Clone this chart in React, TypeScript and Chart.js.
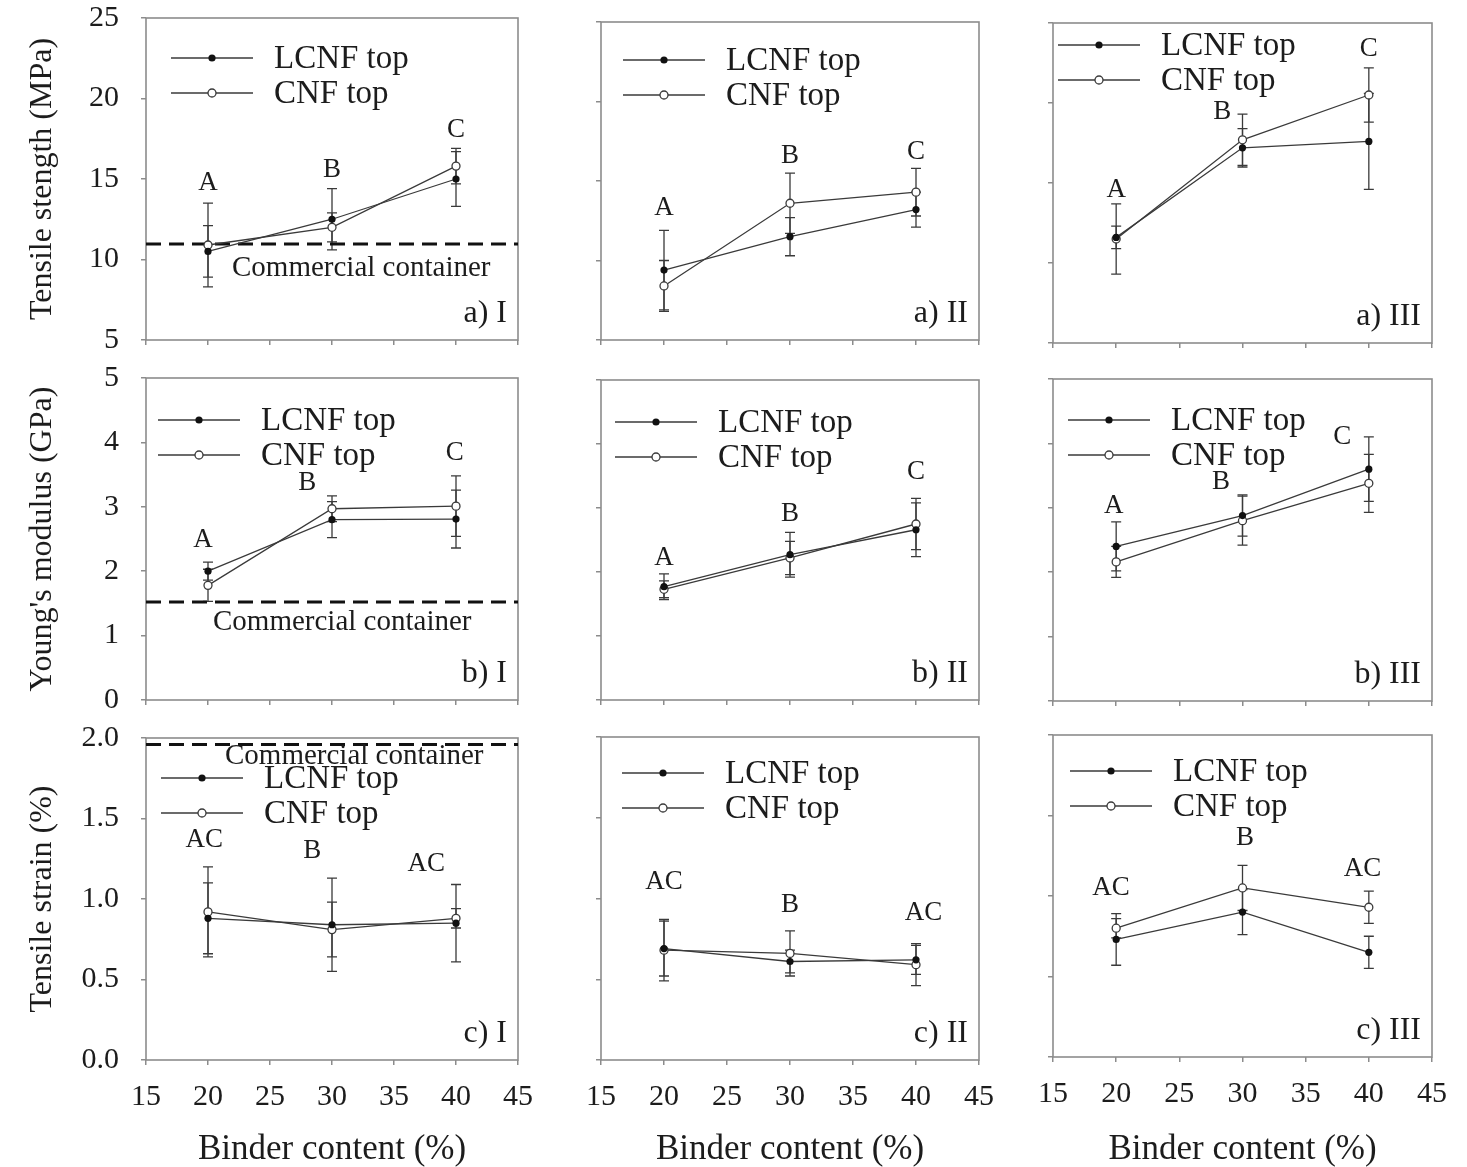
import React, { useEffect, useRef } from "react";
import { Chart, registerables } from "chart.js";

Chart.register(...registerables);

// ---------------- data ----------------
const BINDER_CONTENT = [20, 30, 40];
const X_MIN = 15;
const X_MAX = 45;
const X_STEP = 5;

const SERIES_NAMES = ["LCNF top", "CNF top"];
const ROW_LETTERS = ["a", "b", "c"];
const COL_NUMERALS = ["I", "II", "III"];
const Y_TITLES = ["Tensile stength (MPa)", "Young's modulus (GPa)", "Tensile strain (%)"];
const X_TITLE = "Binder content (%)";
const COMMERCIAL_LABEL = "Commercial container";

// y axis ranges per property row: [min, max, step]
const Y_RANGES = [
  [5, 25, 5],
  [0, 5, 1],
  [0, 2, 0.5],
];
const Y_DECIMALS = [0, 0, 1];

// Tensile strength (MPa)
const TS_LCNF_I = [10.5, 12.5, 15.0];
const TS_LCNF_I_ERR = [1.6, 1.9, 1.7];
const TS_CNF_I = [10.9, 12.0, 15.8];
const TS_CNF_I_ERR = [2.6, 0.9, 1.1];
const TS_LCNF_II = [9.4, 11.5, 13.2];
const TS_LCNF_II_ERR = [2.5, 1.2, 1.1];
const TS_CNF_II = [8.4, 13.6, 14.3];
const TS_CNF_II_ERR = [1.6, 1.9, 1.5];
const TS_LCNF_III = [11.6, 17.2, 17.6];
const TS_LCNF_III_ERR = [0.7, 1.2, 3.0];
const TS_CNF_III = [11.5, 17.7, 20.5];
const TS_CNF_III_ERR = [2.2, 1.6, 1.7];

// Young's modulus (GPa)
const YM_LCNF_I = [2.0, 2.8, 2.81];
const YM_LCNF_I_ERR = [0.14, 0.28, 0.45];
const YM_CNF_I = [1.78, 2.97, 3.01];
const YM_CNF_I_ERR = [0.25, 0.2, 0.47];
const YM_LCNF_II = [1.77, 2.27, 2.66];
const YM_LCNF_II_ERR = [0.2, 0.35, 0.42];
const YM_CNF_II = [1.73, 2.22, 2.75];
const YM_CNF_II_ERR = [0.13, 0.26, 0.4];
const YM_LCNF_III = [2.4, 2.88, 3.6];
const YM_LCNF_III_ERR = [0.38, 0.32, 0.5];
const YM_CNF_III = [2.16, 2.8, 3.38];
const YM_CNF_III_ERR = [0.24, 0.38, 0.45];

// Tensile strain (%)
const SN_LCNF_I = [0.88, 0.84, 0.85];
const SN_LCNF_I_ERR = [0.22, 0.29, 0.24];
const SN_CNF_I = [0.92, 0.81, 0.88];
const SN_CNF_I_ERR = [0.28, 0.17, 0.06];
const SN_LCNF_II = [0.69, 0.61, 0.62];
const SN_LCNF_II_ERR = [0.17, 0.07, 0.09];
const SN_CNF_II = [0.68, 0.66, 0.59];
const SN_CNF_II_ERR = [0.19, 0.14, 0.13];
const SN_LCNF_III = [0.73, 0.9, 0.65];
const SN_LCNF_III_ERR = [0.16, 0.14, 0.1];
const SN_CNF_III = [0.8, 1.05, 0.93];
const SN_CNF_III_ERR = [0.06, 0.14, 0.1];

// commercial container reference level per property (shown in column I)
const COMMERCIAL_LEVEL = [10.96, 1.52, 1.96];

// significance letters per property row
const GROUP_LETTERS = [
  ["A", "B", "C"],
  ["A", "B", "C"],
  ["AC", "B", "AC"],
];

// ---------------- layout / annotation anchors (data units) ----------------
const LETTER_ANCHORS = [
  [
    [[20, 14.75], [30, 15.55], [40, 18.05]],
    [[20, 13.3], [30, 16.6], [40, 16.8]],
    [[20, 14.55], [28.4, 19.45], [40, 23.4]],
  ],
  [
    [[19.6, 2.48], [28.0, 3.37], [39.9, 3.84]],
    [[20, 2.22], [30, 2.9], [40, 3.56]],
    [[19.8, 3.03], [28.3, 3.4], [37.9, 4.1]],
  ],
  [
    [[19.7, 1.37], [28.4, 1.3], [37.6, 1.22]],
    [[20, 1.1], [30, 0.96], [40.6, 0.91]],
    [[19.6, 1.05], [30.2, 1.36], [39.5, 1.17]],
  ],
];

const COL_BOX = [
  { x0: 0, w: 560, left: 146, right: 518 },
  { x0: 560, w: 450, left: 601, right: 979 },
  { x0: 1020, w: 447, left: 1053, right: 1432 },
];
const ROW_BOX = [
  { y0: 0, h: 355 },
  { y0: 355, h: 357 },
  { y0: 712, h: 455 },
];
const PLOT_TB = [
  [[18, 340], [22, 340], [23, 343]],
  [[378, 700], [380, 700], [379, 701]],
  [[738, 1060], [737, 1060], [735, 1057]],
];
const LEGEND_OFF = [
  [[25, 40], [22, 38], [5, 22]],
  [[12, 42], [14, 42], [15, 41]],
  [[15, 40], [21, 36], [17, 36]],
];
const COMMERCIAL_TEXT_OFF = [[86, 24], [67, 20], [79, 12]];

const FONT = '"Liberation Serif", "Times New Roman", serif';
const TEXT_COLOR = "#1c1c1c";
const FRAME_COLOR = "#8c8c8c";
const LINE_COLOR = "#3a3a3a";

const DATA = [
  [
    [[TS_LCNF_I, TS_LCNF_I_ERR], [TS_CNF_I, TS_CNF_I_ERR]],
    [[TS_LCNF_II, TS_LCNF_II_ERR], [TS_CNF_II, TS_CNF_II_ERR]],
    [[TS_LCNF_III, TS_LCNF_III_ERR], [TS_CNF_III, TS_CNF_III_ERR]],
  ],
  [
    [[YM_LCNF_I, YM_LCNF_I_ERR], [YM_CNF_I, YM_CNF_I_ERR]],
    [[YM_LCNF_II, YM_LCNF_II_ERR], [YM_CNF_II, YM_CNF_II_ERR]],
    [[YM_LCNF_III, YM_LCNF_III_ERR], [YM_CNF_III, YM_CNF_III_ERR]],
  ],
  [
    [[SN_LCNF_I, SN_LCNF_I_ERR], [SN_CNF_I, SN_CNF_I_ERR]],
    [[SN_LCNF_II, SN_LCNF_II_ERR], [SN_CNF_II, SN_CNF_II_ERR]],
    [[SN_LCNF_III, SN_LCNF_III_ERR], [SN_CNF_III, SN_CNF_III_ERR]],
  ],
];

function drawMarker(ctx: CanvasRenderingContext2D, x: number, y: number, filled: boolean) {
  ctx.beginPath();
  if (filled) {
    ctx.arc(x, y, 3.6, 0, Math.PI * 2);
    ctx.fillStyle = "#111";
    ctx.fill();
  } else {
    ctx.arc(x, y, 4, 0, Math.PI * 2);
    ctx.fillStyle = "#fff";
    ctx.fill();
    ctx.lineWidth = 1.3;
    ctx.strokeStyle = LINE_COLOR;
    ctx.stroke();
  }
}

function Panel({ row, col }: { row: number; col: number }) {
  const ref = useRef<HTMLCanvasElement | null>(null);
  const cb = COL_BOX[col];
  const rb = ROW_BOX[row];

  useEffect(() => {
    const canvas = ref.current;
    if (!canvas) return;
    const [plotTop, plotBottom] = PLOT_TB[row][col];
    const [yMin, yMax, yStep] = Y_RANGES[row];
    const showY = col === 0;
    const showX = row === 2;
    const series = DATA[row][col];
    const hasCommercial = col === 0;

    const datasets: any[] = series.map(([vals], i) => ({
      label: SERIES_NAMES[i],
      data: BINDER_CONTENT.map((x, j) => ({ x, y: vals[j] })),
      borderColor: LINE_COLOR,
      borderWidth: 1.3,
      tension: 0,
      pointRadius: i === 0 ? 3.6 : 4,
      pointBackgroundColor: i === 0 ? "#111" : "#fff",
      pointBorderColor: i === 0 ? "#111" : LINE_COLOR,
      pointBorderWidth: i === 0 ? 0 : 1.3,
      clip: false,
    }));
    if (hasCommercial) {
      datasets.push({
        label: COMMERCIAL_LABEL,
        data: [
          { x: X_MIN, y: COMMERCIAL_LEVEL[row] },
          { x: X_MAX, y: COMMERCIAL_LEVEL[row] },
        ],
        borderColor: "#111",
        borderWidth: 3,
        borderDash: [15, 8],
        pointRadius: 0,
        tension: 0,
      });
    }

    const decor = {
      id: "decor",
      beforeDatasetsDraw(chart: any) {
        const { ctx, chartArea: a } = chart;
        const ys = chart.scales.y;
        ctx.save();
        ctx.strokeStyle = FRAME_COLOR;
        ctx.lineWidth = 1.6;
        ctx.strokeRect(a.left, a.top, a.right - a.left, a.bottom - a.top);
        ctx.strokeStyle = LINE_COLOR;
        ctx.lineWidth = 1.3;
        const CAP = 5;
        series.forEach(([vals, errs], di) => {
          const meta = chart.getDatasetMeta(di);
          meta.data.forEach((pt: any, j: number) => {
            const v = vals[j];
            const e = errs[j];
            const yt = ys.getPixelForValue(v + e);
            const yb = ys.getPixelForValue(v - e);
            const px = pt.x;
            ctx.beginPath();
            ctx.moveTo(px, yt);
            ctx.lineTo(px, yb);
            ctx.moveTo(px - CAP, yt);
            ctx.lineTo(px + CAP, yt);
            ctx.moveTo(px - CAP, yb);
            ctx.lineTo(px + CAP, yb);
            ctx.stroke();
          });
        });
        ctx.restore();
      },
      afterDatasetsDraw(chart: any) {
        const { ctx, chartArea: a } = chart;
        const xs = chart.scales.x;
        const ys = chart.scales.y;
        ctx.save();
        ctx.fillStyle = TEXT_COLOR;
        // significance letters
        ctx.font = `27px ${FONT}`;
        ctx.textAlign = "center";
        ctx.textBaseline = "middle";
        GROUP_LETTERS[row].forEach((t, i) => {
          const [lx, ly] = LETTER_ANCHORS[row][col][i];
          ctx.fillText(t, xs.getPixelForValue(lx), ys.getPixelForValue(ly));
        });
        // commercial container label
        if (hasCommercial) {
          const [dx, dy] = COMMERCIAL_TEXT_OFF[row];
          ctx.font = `29px ${FONT}`;
          ctx.textAlign = "left";
          ctx.fillText(COMMERCIAL_LABEL, a.left + dx, ys.getPixelForValue(COMMERCIAL_LEVEL[row]) + dy);
        }
        // legend
        const [ldx, ldy] = LEGEND_OFF[row][col];
        SERIES_NAMES.forEach((name, i) => {
          const lx = a.left + ldx;
          const ly = a.top + ldy + i * 35;
          ctx.strokeStyle = LINE_COLOR;
          ctx.lineWidth = 1.3;
          ctx.beginPath();
          ctx.moveTo(lx, ly);
          ctx.lineTo(lx + 82, ly);
          ctx.stroke();
          drawMarker(ctx, lx + 41, ly, i === 0);
          ctx.fillStyle = TEXT_COLOR;
          ctx.font = `33px ${FONT}`;
          ctx.textAlign = "left";
          ctx.textBaseline = "middle";
          ctx.fillText(name, lx + 103, ly + 1);
        });
        // panel label
        ctx.font = `32px ${FONT}`;
        ctx.textAlign = "right";
        ctx.textBaseline = "alphabetic";
        ctx.fillStyle = TEXT_COLOR;
        ctx.fillText(`${ROW_LETTERS[row]}) ${COL_NUMERALS[col]}`, a.right - 11, a.bottom - 18);
        ctx.restore();
      },
    };

    const yw = cb.left - cb.x0;
    const xh = rb.y0 + rb.h - plotBottom;
    const tickFont = { family: FONT, size: 30, lineHeight: 1 };

    const chart = new Chart(canvas, {
      type: "line",
      data: { datasets },
      options: {
        animation: false,
        responsive: false,
        devicePixelRatio: 1,
        events: [],
        layout: {
          padding: { left: 0, top: plotTop - rb.y0, right: cb.x0 + cb.w - cb.right, bottom: 0 },
        },
        plugins: { legend: { display: false }, tooltip: { enabled: false } },
        scales: {
          x: {
            type: "linear",
            min: X_MIN,
            max: X_MAX,
            ticks: {
              stepSize: X_STEP,
              display: showX,
              color: TEXT_COLOR,
              font: tickFont,
              padding: 17,
              maxRotation: 0,
              autoSkip: false,
            },
            grid: { drawOnChartArea: false, drawTicks: true, tickLength: 5, color: FRAME_COLOR, lineWidth: 1.5 },
            border: { display: false },
            title: {
              display: showX,
              text: X_TITLE,
              color: TEXT_COLOR,
              font: { family: FONT, size: 35, lineHeight: 1 },
              padding: { top: 0, bottom: 0 },
            },
            afterFit: (s: any) => {
              s.height = xh;
              s.paddingLeft = 0;
              s.paddingRight = 0;
            },
          },
          y: {
            type: "linear",
            min: yMin,
            max: yMax,
            ticks: {
              stepSize: yStep,
              display: showY,
              color: TEXT_COLOR,
              font: tickFont,
              padding: 22,
              callback: (v: any) => Number(v).toFixed(Y_DECIMALS[row]),
            },
            grid: { drawOnChartArea: false, drawTicks: true, tickLength: 5, color: FRAME_COLOR, lineWidth: 1.5 },
            border: { display: false },
            title: {
              display: showY,
              text: Y_TITLES[row],
              color: TEXT_COLOR,
              font: { family: FONT, size: 32, lineHeight: 1 },
              padding: { top: 27, bottom: 0 },
            },
            afterFit: (s: any) => {
              s.width = yw;
              s.paddingTop = 0;
              s.paddingBottom = 0;
            },
          },
        },
      },
      plugins: [decor],
    } as any);
    return () => chart.destroy();
  }, [row, col]);

  return (
    <canvas
      ref={ref}
      width={cb.w}
      height={rb.h}
      style={{ position: "absolute", left: cb.x0, top: rb.y0, width: cb.w, height: rb.h }}
    />
  );
}

export default function App() {
  const panels: React.ReactElement[] = [];
  for (let r = 0; r < 3; r++) {
    for (let c = 0; c < 3; c++) {
      panels.push(<Panel key={`${r}-${c}`} row={r} col={c} />);
    }
  }
  return (
    <div
      style={{
        position: "absolute",
        left: 0,
        top: 0,
        width: 1467,
        height: 1167,
        background: "#fff",
        overflow: "hidden",
      }}
    >
      {panels}
    </div>
  );
}
